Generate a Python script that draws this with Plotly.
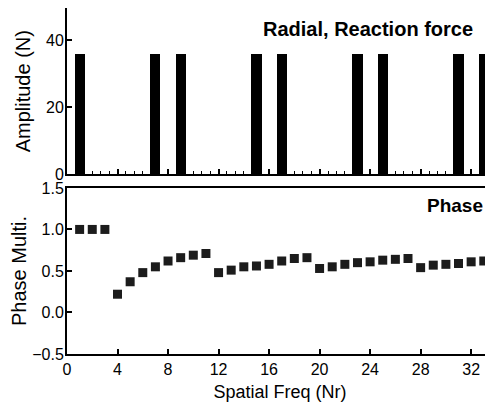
import plotly.graph_objects as go

# Data
amp_orders = [1, 7, 9, 15, 17, 23, 25, 31, 33]
amp_values = [36, 36, 36, 36, 36, 36, 36, 36, 36]

phase_orders = list(range(1, 34))
phase_values = [1.00, 1.00, 1.00, 0.22, 0.37, 0.48, 0.55, 0.62, 0.66, 0.69, 0.71,
                0.48, 0.51, 0.55, 0.56, 0.58, 0.62, 0.65, 0.66,
                0.53, 0.55, 0.58, 0.60, 0.61, 0.63, 0.64, 0.65,
                0.54, 0.57, 0.58, 0.59, 0.61, 0.62]

x_ticks = [0, 4, 8, 12, 16, 20, 24, 28, 32]
amp_ticks = [0, 20, 40]
phase_ticks = [-0.5, 0.0, 0.5, 1.0, 1.5]

FONT = "Liberation Sans, Arial, sans-serif"

fig = go.Figure()
fig.add_trace(go.Bar(x=amp_orders, y=amp_values, width=0.8,
                     marker=dict(color="black", line=dict(width=0)),
                     xaxis="x", yaxis="y", showlegend=False))
fig.add_trace(go.Scatter(x=phase_orders, y=phase_values, mode="markers",
                         marker=dict(symbol="square", size=9, color="#1c1c1c"),
                         xaxis="x2", yaxis="y2", showlegend=False, cliponaxis=False))

axis_common = dict(showline=True, linecolor="black", linewidth=2,
                   showgrid=False, zeroline=False, ticks="inside",
                   ticklen=5, tickwidth=1.5, tickcolor="black", automargin=False,
                   tickfont=dict(family=FONT, size=16, color="black"))

# the page body adds an 8px offset, so the figure is sized to fit the window
fig.update_layout(
    width=485, height=394,
    margin=dict(l=59, r=0, t=0, b=48, autoexpand=False),
    paper_bgcolor="white", plot_bgcolor="white",
    bargap=0,
    xaxis=dict(axis_common, domain=[0, 1], anchor="y", range=[0, 33.73],
               tickvals=x_ticks, showticklabels=False, mirror=True,
               minor=dict(dtick=4/6, tick0=0, ticks="inside", ticklen=3,
                          tickcolor="black", tickwidth=1)),
    yaxis=dict(axis_common, domain=[0.519, 1], anchor="x", range=[0, 49.7],
               tickvals=amp_ticks, ticklabelstandoff=-2,
               title=dict(text="Amplitude (N)", standoff=10,
                          font=dict(family=FONT, size=20, color="black"))),
    xaxis2=dict(axis_common, domain=[0, 1], anchor="y2", range=[0, 33.73],
                tickvals=x_ticks, mirror=True,
                title=dict(text="Spatial Freq (Nr)", standoff=10,
                           font=dict(family=FONT, size=18, color="black"))),
    yaxis2=dict(axis_common, domain=[0, 0.480], anchor="x2", range=[-0.5, 1.5],
                tickvals=phase_ticks, tickformat=".1f", ticklabelstandoff=-2,
                title=dict(text="Phase Multi.", standoff=15,
                           font=dict(family=FONT, size=20, color="black"))),
    annotations=[
        dict(text="<b>Radial, Reaction force</b>", xref="paper", yref="paper",
             x=(475 - 67) / 426, y=0.938, xanchor="right", yanchor="middle",
             showarrow=False, font=dict(family=FONT, size=20, color="black")),
        dict(text="<b>Phase</b>", xref="paper", yref="paper",
             x=(485 - 67) / 426, y=0.429, xanchor="right", yanchor="middle",
             showarrow=False, font=dict(family=FONT, size=19, color="black")),
    ],
)

fig.write_html("out.html")
